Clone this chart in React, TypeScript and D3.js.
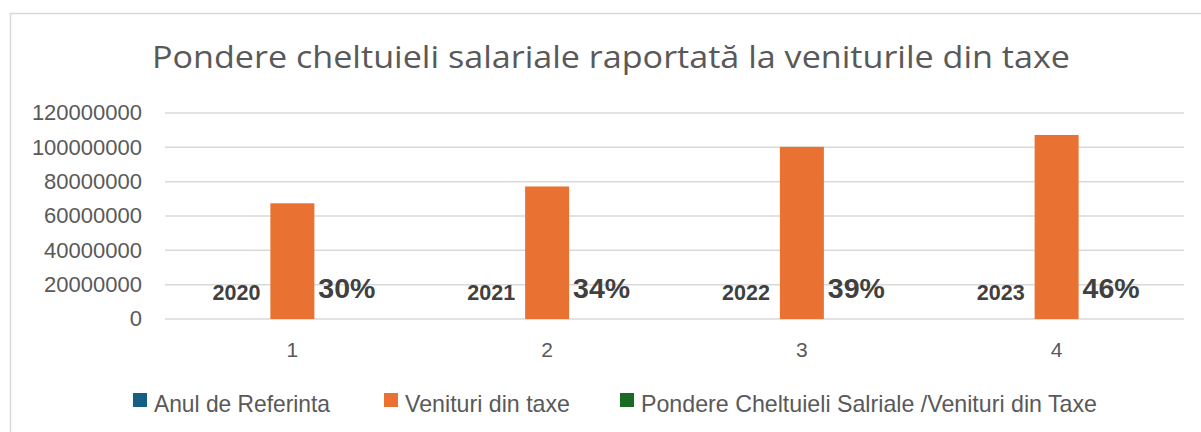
import React from 'react';
import * as d3 from 'd3';

// data
const categories = ['1', '2', '3', '4'];
const seriesNames = ['Anul de Referinta', 'Venituri din taxe', 'Pondere Cheltuieli Salriale /Venituri din Taxe'];
const anulReferinta = [2020, 2021, 2022, 2023];
const venituriTaxe = [67400000, 77200000, 100300000, 107200000];
const pondere = [0.30, 0.34, 0.39, 0.46];
const yTicks = [0, 20000000, 40000000, 60000000, 80000000, 100000000, 120000000];

const seriesColors = ['#156082', '#E97132', '#196B24'];

const W = 1201;
const H = 432;
const plot = { left: 165, right: 1184, top: 113, bottom: 319 };

export default function App() {
  const x = d3.scaleBand<string>().domain(categories).range([plot.left, plot.right]).padding(0);
  const xInner = d3.scaleBand<string>()
    .domain(seriesNames)
    .range([0, x.bandwidth()])
    .paddingInner(0)
    .paddingOuter(1.395);
  const y = d3.scaleLinear().domain([0, 120000000]).range([plot.bottom, plot.top]);

  const seriesValues = [anulReferinta, venituriTaxe, pondere];
  const fmtPct = d3.format('.0%');

  const legendX = [133, 384, 620];
  const legendW = [176, 165, 456];

  return (
    <svg width={W} height={H} style={{ position: 'absolute', left: 0, top: 0, display: 'block' }}>
      <rect x={10.5} y={13.5} width={1220} height={440} fill="#fff" stroke="#d9d9d9" strokeWidth={1.5} />

      <text x={611} y={68} textAnchor="middle" fill="#595959" textLength={918} lengthAdjust="spacingAndGlyphs"
        style={{ fontFamily: '"Open Sans", Roboto, sans-serif', fontSize: 31 }}>
        Pondere cheltuieli salariale raportată la veniturile din taxe
      </text>

      {/* gridlines and y labels */}
      {yTicks.map(t => (
        <g key={t}>
          <line x1={plot.left} x2={plot.right} y1={y(t)} y2={y(t)} stroke="#d9d9d9" strokeWidth={1.5} />
          <text x={142} y={y(t)} dy="0.34em" textAnchor="end" fill="#595959"
            style={{ fontFamily: '"Liberation Sans", Arial, sans-serif', fontSize: 22 }}>
            {t}
          </text>
        </g>
      ))}

      {/* bars */}
      {seriesValues.map((vals, si) =>
        vals.map((v, i) => {
          const bx = (x(categories[i]) ?? 0) + (xInner(seriesNames[si]) ?? 0);
          return (
            <rect key={si + '-' + i} x={bx} y={y(v)} width={xInner.bandwidth()}
              height={Math.max(0, plot.bottom - y(v))} fill={seriesColors[si]} />
          );
        })
      )}

      {/* data labels */}
      {categories.map((c, i) => {
        const bx = (x(c) ?? 0) + (xInner(seriesNames[1]) ?? 0);
        return (
          <g key={'lbl' + c} style={{ fontFamily: '"Liberation Sans", Arial, sans-serif', fontWeight: 700 }} fill="#404040">
            <text x={bx - 10} y={300} textAnchor="end" fontSize={21.5}>{anulReferinta[i]}</text>
            <text x={bx + xInner.bandwidth() + 4} y={297.5} textAnchor="start" fontSize={28.5}>{fmtPct(pondere[i])}</text>
          </g>
        );
      })}

      {/* x labels */}
      {categories.map(c => (
        <text key={'x' + c} x={(x(c) ?? 0) + x.bandwidth() / 2} y={357} textAnchor="middle" fill="#595959"
          style={{ fontFamily: '"Liberation Sans", Arial, sans-serif', fontSize: 21 }}>
          {c}
        </text>
      ))}

      {/* legend */}
      {seriesNames.map((s, i) => (
        <g key={'leg' + i}>
          <rect x={legendX[i]} y={393} width={14} height={14} fill={seriesColors[i]} />
          <text x={legendX[i] + 21} y={412} fill="#595959" textLength={legendW[i]} lengthAdjust="spacingAndGlyphs"
            style={{ fontFamily: '"Liberation Sans Narrow", "Liberation Sans", Arial, sans-serif', fontSize: 24 }}>
            {s}
          </text>
        </g>
      ))}
    </svg>
  );
}
